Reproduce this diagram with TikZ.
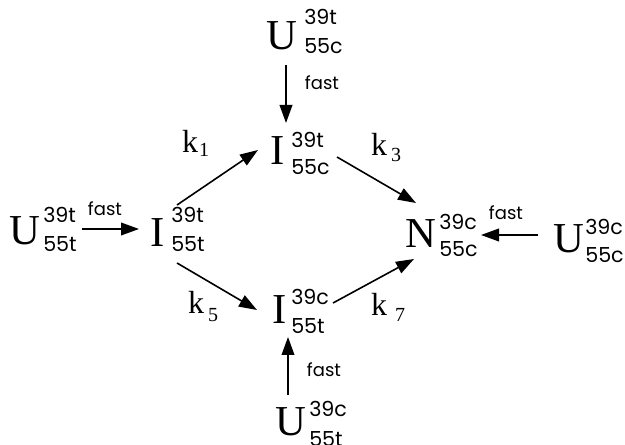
\documentclass[tikz,border=0pt]{standalone}
\usepackage{fontspec}
\setmainfont{Liberation Serif}
\newfontfamily\scrfont{Poppins}
\usetikzlibrary{arrows.meta}
\tikzset{
  letter/.style={inner sep=0pt, font=\fontsize{32}{32}\selectfont},
  script/.style={inner sep=0pt, anchor=west, font=\scrfont\fontsize{15.5}{15.5}\selectfont},
  fastlbl/.style={inner sep=0pt, font=\scrfont\fontsize{13.5}{13.5}\selectfont},
  klbl/.style={inner sep=0pt, font=\fontsize{24}{24}\selectfont},
  ksub/.style={inner sep=0pt, font=\fontsize{15}{15}\selectfont},
  arr/.style={line width=1.2pt, -{Triangle[length=13.5pt,width=9.5pt]}}
}
\begin{document}
\begin{tikzpicture}[x=0.75pt,y=-0.75pt]
\useasboundingbox (0,0) rectangle (625,445);
% species letters
\node[letter] (UL) at (24.5,231) {U};
\node[script] (ULs) at (43,215) {39t};
\node[script] (ULb) at (43,244) {55t};
\node[letter] (IL) at (158,233) {I};
\node[script] (ILs) at (171,215) {39t};
\node[script] (ILb) at (171,244) {55t};
\node[letter] (UT) at (282,36) {U};
\node[script] (UTs) at (304,17) {39t};
\node[script] (UTb) at (304,46) {55c};
\node[letter] (IT) at (278,151) {I};
\node[script] (ITs) at (291,140) {39t};
\node[script] (ITb) at (291,167) {55c};
\node[letter] (N) at (421,234) {N};
\node[script] (Ns) at (439,222) {39c};
\node[script] (Nb) at (439,249) {55c};
\node[letter] (UR) at (569,239) {U};
\node[script] (URs) at (585,227) {39c};
\node[script] (URb) at (585,255) {55c};
\node[letter] (IB) at (280,310) {I};
\node[script] (IBs) at (291,297) {39c};
\node[script] (IBb) at (291,326) {55t};
\node[letter] (UB) at (291,422) {U};
\node[script] (UBs) at (309,409) {39c};
\node[script] (UBb) at (309,439) {55t};
% arrow end points
\coordinate (a1) at (82,229);  \coordinate (b1) at (139,229);
\coordinate (a2) at (286,65);  \coordinate (b2) at (286,123);
\coordinate (a3) at (538,235); \coordinate (b3) at (481,235);
\coordinate (a4) at (288,395); \coordinate (b4) at (288,337);
\coordinate (a5) at (177,205); \coordinate (b5) at (258,150);
\coordinate (a6) at (337,157); \coordinate (b6) at (416,203);
\coordinate (a7) at (177,263); \coordinate (b7) at (257,310);
\coordinate (a8) at (333,303); \coordinate (b8) at (414,259);
\draw[arr] (a1) -- (b1);
\draw[arr] (a2) -- (b2);
\draw[arr] (a3) -- (b3);
\draw[arr] (a4) -- (b4);
\draw[arr] (a5) -- (b5);
\draw[arr] (a6) -- (b6);
\draw[arr] (a7) -- (b7);
\draw[arr] (a8) -- (b8);
% fast labels
\node[fastlbl] (f1) at (105,209) {fast};
\node[fastlbl] (f2) at (322,83) {fast};
\node[fastlbl] (f3) at (506,213) {fast};
\node[fastlbl] (f4) at (324,370) {fast};
% rate constants
\node[klbl] (k1) at (190,141) {k};
\node[ksub] (k1s) at (204,150) {1};
\node[klbl] (k3) at (379,144) {k};
\node[ksub] (k3s) at (396,155) {3};
\node[klbl] (k5) at (196,302) {k};
\node[ksub] (k5s) at (213,315) {5};
\node[klbl] (k7) at (379,304) {k};
\node[ksub] (k7s) at (400,315) {7};
\end{tikzpicture}
\end{document}
